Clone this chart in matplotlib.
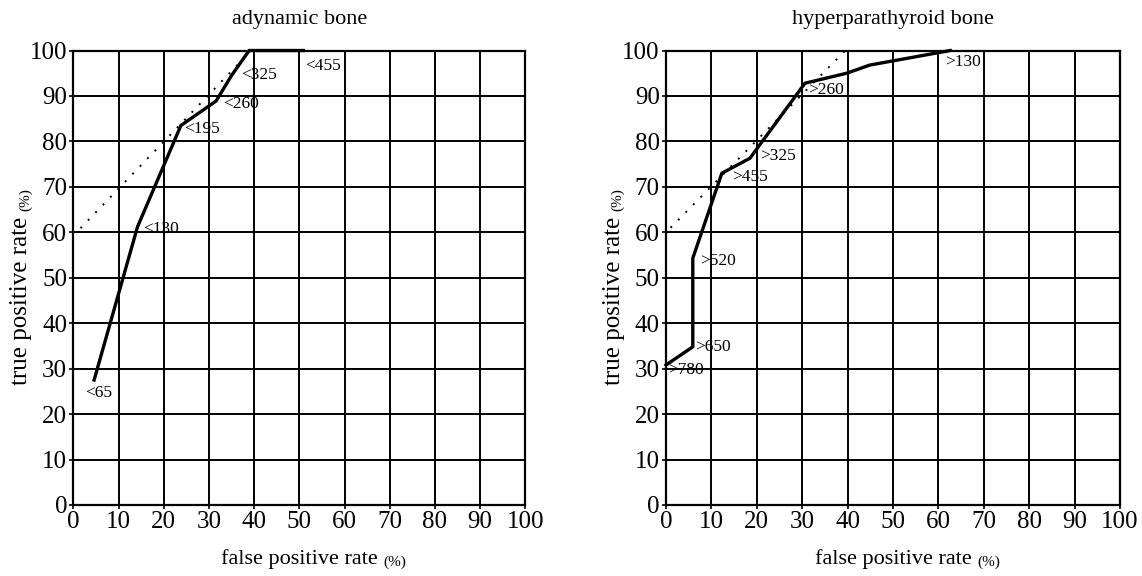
import matplotlib
matplotlib.use("Agg")
import matplotlib.pyplot as plt

plt.rcParams["font.family"] = ["Liberation Serif", "DejaVu Serif"]

# adynamic bone (cut-off values "<")
fpr_a = [4.6, 14.2, 23.8, 31.6, 35.0, 38.9, 50.9]
tpr_a = [27.5, 61.2, 83.5, 88.9, 94.5, 100, 100]
cut_a = ["<65", "<130", "<195", "<260", "<325", None, "<455"]
tan_a_x = [1.6, 38.6]
tan_a_y = [60.9, 99.2]

# hyperparathyroid bone (cut-off values ">")
fpr_h = [0, 5.9, 5.9, 12.3, 18.5, 30.6, 39.8, 44.9, 62.6]
tpr_h = [30.8, 34.8, 54.3, 73.0, 76.3, 92.8, 95.0, 96.8, 100]
cut_h = [">780", ">650", ">520", ">455", ">325", ">260", None, None, ">130"]
tan_h_x = [1.0, 39.5]
tan_h_y = [61.0, 100]

ticks = list(range(0, 101, 10))

# label offsets in pixels (dx, dy)
off_a = [(-9, -13), (6, -2), (3, -3), (7, -3), (10, 1), None, (2, -15)]
off_h = [(2, -5), (2, 0), (7, -3), (10, -4), (10, 2), (3, -7), None, None, (-5, -11)]

fig = plt.figure(figsize=(11.42, 5.76), dpi=100)
ax1 = fig.add_axes([0.0642, 0.1233, 0.3958, 0.789])
ax2 = fig.add_axes([0.5832, 0.1233, 0.3975, 0.789])


def draw(ax, fx, ty, cuts, offs, tx, tyy, title):
    ax.plot(tx, tyy, color="black", lw=1.4, linestyle=(0, (1, 4.5)), zorder=3)
    ax.plot(fx, ty, color="black", lw=2.4, solid_joinstyle="miter",
            clip_on=False, zorder=4)
    for x, y, c, o in zip(fx, ty, cuts, offs):
        if c is None:
            continue
        ax.annotate(c, (x, y), xytext=o, textcoords="offset pixels",
                    ha="left", va="center", fontsize=12.5, zorder=5)
    ax.set_xlim(0, 100)
    ax.set_ylim(0, 100)
    ax.set_xticks(ticks)
    ax.set_yticks(ticks)
    ax.grid(True, color="black", lw=1.4)
    ax.set_axisbelow(True)
    for s in ax.spines.values():
        s.set_linewidth(1.6)
    ax.tick_params(labelsize=18, length=3, width=1.2, pad=1.5)
    ax.set_title(title, fontsize=16, pad=19)

    # x label with smaller (%)
    t1 = ax.text(0.5, -0.13, "false positive rate", transform=ax.transAxes,
                 ha="center", va="baseline", fontsize=16)
    ax.annotate("(%)", xy=(1, 0), xycoords=t1, xytext=(4, 0),
                textcoords="offset points", ha="left", va="bottom", fontsize=11)
    # y label with smaller (%)
    t2 = ax.text(-0.115, 0.45, "true positive rate", transform=ax.transAxes,
                 rotation=90, ha="center", va="center", fontsize=18)
    ax.annotate("(%)", xy=(1, 1), xycoords=t2, xytext=(0, 4),
                textcoords="offset points", rotation=90, ha="right",
                va="bottom", fontsize=11)


draw(ax1, fpr_a, tpr_a, cut_a, off_a, tan_a_x, tan_a_y, "adynamic bone")
draw(ax2, fpr_h, tpr_h, cut_h, off_h, tan_h_x, tan_h_y, "hyperparathyroid bone")

fig.savefig("out.png", dpi=100)
